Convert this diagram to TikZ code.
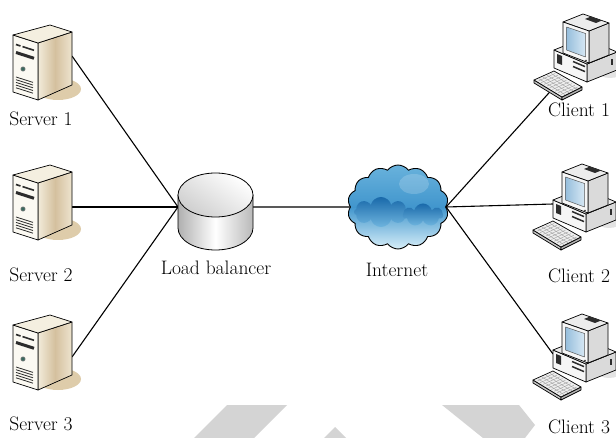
\documentclass[tikz,border=0pt]{standalone}
\usepackage{fontspec}
\usetikzlibrary{shapes.symbols,backgrounds}

\definecolor{frontcream}{RGB}{251,249,242}
\definecolor{topcream}{RGB}{244,239,224}
\definecolor{sideL}{RGB}{242,235,218}
\definecolor{sideM}{RGB}{212,192,158}
\definecolor{sideR}{RGB}{238,228,207}
\definecolor{shadowtan}{RGB}{222,204,170}
\definecolor{bay}{RGB}{45,45,45}
\definecolor{knob}{RGB}{60,105,95}
\definecolor{casefront}{RGB}{246,246,246}
\definecolor{casetop}{RGB}{236,236,236}
\definecolor{caseside}{RGB}{218,218,218}
\definecolor{screenA}{RGB}{150,190,220}
\definecolor{screenB}{RGB}{215,232,244}
\definecolor{keycap}{RGB}{238,238,238}
\definecolor{skyTop}{RGB}{105,178,220}
\definecolor{skyMid}{RGB}{65,150,205}
\definecolor{skyLow}{RGB}{215,238,248}
\definecolor{blobTop}{RGB}{25,105,170}
\definecolor{blobLow}{RGB}{110,180,222}
\definecolor{wm}{RGB}{212,212,212}

\tikzset{
  outline/.style={draw=black, line width=0.7pt},
  link/.style={draw=black, line width=1.1pt},
  lbl/.style={inner sep=0pt, font=\fontsize{19.5}{22}\selectfont},
  server/.pic={
    \fill[shadowtan] (8,64) ellipse[x radius=23pt, y radius=11pt];
    \path[outline, left color=sideL, right color=sideR, middle color=sideM]
      (-12,18) -- (22,7) -- (22,60) -- (-12,75) -- cycle;
    \path[outline, fill=frontcream] (-37,10) -- (-12,18) -- (-12,75) -- (-37,67) -- cycle;
    \path[outline, fill=topcream] (-37,10) -- (0,0) -- (22,7) -- (-12,18) -- cycle;
    \draw[line width=1.6pt, bay] (-34,19.5) -- (-29.5,21) (-27.5,21.6) -- (-16,25.3);
    \draw[line width=3pt, bay] (-34,27.5) -- (-16,33.3);
    \draw[fill=knob, draw=gray, line width=0.6pt] (-27,44) circle[radius=2.2pt];
    \foreach \k in {0,...,4}
      \draw[line width=0.8pt, bay] (-34,{52+2.7*\k}) -- (-17,{57.4+2.7*\k});
    \coordinate (-hi) at (22,31);
    \coordinate (-mid) at (22,42);
  },
  client/.pic={
    \fill[gray!22] (56,22) ellipse[x radius=12pt, y radius=6pt];
    % desktop case
    \path[outline, fill=caseside] (33,14) -- (63,2) -- (63,20) -- (33,32) -- cycle;
    \path[outline, fill=casefront] (0,0) -- (33,14) -- (33,32) -- (0,18) -- cycle;
    \path[outline, fill=casetop] (0,0) -- (30,-12) -- (63,2) -- (33,14) -- cycle;
    \fill[bay] (3,4) -- (8,6) -- (8,15) -- (3,13) -- cycle;
    \draw[bay, line width=1.5pt] (19,11.5) -- (31,16.6) (19,16.5) -- (31,21.6);
    \draw[bay, line width=1.2pt] (58,9) -- (58,15);
    % monitor
    \path[outline, fill=caseside] (35,-19) -- (55,-27) -- (55,5) -- (35,13) -- cycle;
    \path[outline, fill=casetop] (9,-28) -- (29,-36) -- (55,-27) -- (35,-19) -- cycle;
    \path[outline, fill=casefront] (9,-28) -- (35,-19) -- (35,13) -- (9,3) -- cycle;
    \path[draw=gray!70!black, line width=0.5pt, left color=screenA, right color=screenB]
      (12.5,-23) -- (31.5,-16.5) -- (31.5,7) -- (12.5,0) -- cycle;
    \fill[bay] (31,-31) -- (37,-33.5) -- (48,-29.5) -- (42,-27) -- cycle;
    \fill[bay] (32,10.5) circle[radius=0.9pt];
    % keyboard
    \path[outline, fill=gray!45] (-20,30) -- (8,47) -- (8,50) -- (-20,33) -- cycle;
    \path[outline, fill=gray!60] (8,47) -- (28,37) -- (28,40) -- (8,50) -- cycle;
    \path[outline, fill=keycap] (-20,30) -- (0,21) -- (28,37) -- (8,47) -- cycle;
    \foreach \u in {0.2,0.4,0.6,0.8}
      \draw[gray!75, line width=0.4pt]
        ({-20+20*\u+28*0.04},{30-9*\u+17*0.04}) -- ({-20+20*\u+28*0.96},{30-9*\u+17*0.96});
    \foreach \v in {0.1,0.2,...,0.91}
      \draw[gray!75, line width=0.4pt]
        ({-20+20*0.08+28*\v},{30-9*0.08+17*\v}) -- ({-20+20*0.92+28*\v},{30-9*0.92+17*\v});
    \coordinate (-kb) at (-4.6,42.4);
    \coordinate (-port) at (0,4);
  }
}

\begin{document}
\begin{tikzpicture}[x=1pt, y=-1pt, line join=round]
\useasboundingbox (0,0) rectangle (616,438);

% servers
\pic (s1) at (50,25) {server};
\pic (s2) at (50,165) {server};
\pic (s3) at (50,315) {server};
\node[lbl] (s1l) at (41,119) {Server 1};
\node[lbl] (s2l) at (41,275) {Server 2};
\node[lbl] (s3l) at (41,424) {Server 3};

% load balancer drum
\coordinate (lb-w) at (178,207);
\coordinate (lb-e) at (253,207);
\path[outline, line width=0.8pt, left color=gray!62, right color=gray!55, middle color=white]
  (178,195) -- (178,228) arc[start angle=180, end angle=360, x radius=37.5pt, y radius=22pt]
  -- (253,195) -- cycle;
\path[outline, line width=0.8pt, top color=white, bottom color=gray!38, shading angle=-35]
  (215.5,195) ellipse[x radius=37.5pt, y radius=22pt];
\node[lbl] (lbl) at (216,268) {Load balancer};

% internet cloud
\node[cloud, cloud puffs=14, cloud puff arc=105, aspect=1.25,
      minimum width=101pt, minimum height=84pt, inner sep=0pt,
      draw=black, line width=0.9pt,
      top color=skyTop, bottom color=skyLow, middle color=skyMid] (net) at (398,207) {};
\fill[white, opacity=0.18] (414,184) ellipse[x radius=15pt, y radius=10pt];
\node[cloud, cloud puffs=8, aspect=1.9, minimum width=54pt, minimum height=30pt, inner sep=0pt,
      top color=blobTop, bottom color=blobLow] (blobA) at (381,212) {};
\node[cloud, cloud puffs=7, aspect=1.8, minimum width=40pt, minimum height=23pt, inner sep=0pt,
      top color=blobTop, bottom color=blobLow] (blobB) at (423,215) {};
\node[lbl] (netl) at (397,270) {Internet};

% clients
\pic (c1) at (554,50) {client};
\pic (c2) at (553,200) {client};
\pic (c3) at (553,350) {client};
\node[lbl] (c1l) at (579,110) {Client 1};
\node[lbl] (c2l) at (579,276) {Client 2};
\node[lbl] (c3l) at (579,427) {Client 3};

% links
\begin{scope}[on background layer]
  \draw[link] (s1-hi) -- (lb-w);
  \draw[link] (s2-mid) -- (lb-w);
  \draw[link] (s3-mid) -- (lb-w);
  \draw[link] (lb-e) -- (net.west);
  \draw[link] (net.east) -- (c1-kb);
  \draw[link] (net.east) -- (c2-port);
  \draw[link] (net.east) -- (c3-port);
\end{scope}

% grey marks along the bottom edge
\fill[wm] (227,405) -- (287,405) -- (254,438) -- (194,438) -- cycle;
\fill[wm] (335,427) -- (346,438) -- (324,438) -- cycle;
\fill[wm] (442,405) -- (519,405) -- (535,425) -- (525,438) -- (483,438) -- cycle;
\end{tikzpicture}
\end{document}
